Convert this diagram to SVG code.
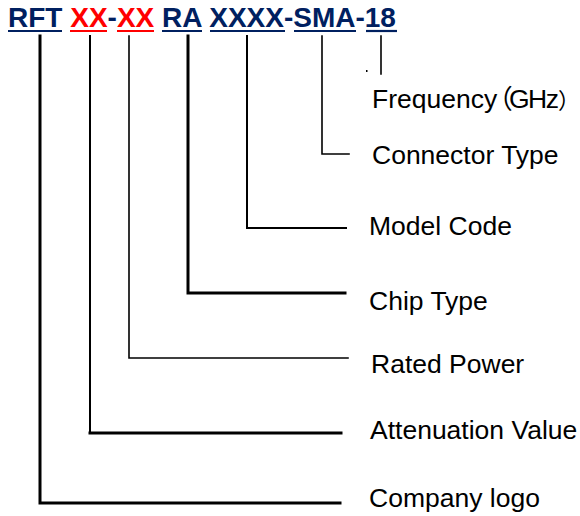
<svg xmlns="http://www.w3.org/2000/svg" width="580" height="516" viewBox="0 0 580 516">
<style>
.code{font-family:"Liberation Sans",Arial,sans-serif;font-weight:bold;font-size:28px}
.blue{fill:#002060}
.red{fill:#FF0000}
.ul{stroke-width:2.2}
.ulb{stroke:#002060}
.ulr{stroke:#FF0000}
.lbl{font-family:"Liberation Sans",Arial,"Noto Sans CJK SC",sans-serif;font-size:26.5px;fill:#000}
.ln{stroke:#000;fill:none;stroke-linecap:square}
.thick{stroke-width:3}
.mid{stroke-width:2}
.thin{stroke-width:1.6}
</style>
<rect width="580" height="516" fill="#fff"/>
<g id="code">
<text class="code" x="8" y="27"><tspan class="blue">RFT </tspan><tspan class="red">XX</tspan><tspan class="blue">-</tspan><tspan class="red">XX</tspan><tspan class="blue"> RA XXXX-SMA-18</tspan></text>
<line class="ul ulb" x1="8" y1="31" x2="62" y2="31"/>
<line class="ul ulr" x1="70" y1="31" x2="107" y2="31"/>
<line class="ul ulr" x1="117" y1="31" x2="154" y2="31"/>
<line class="ul ulb" x1="162" y1="31" x2="202" y2="31"/>
<line class="ul ulb" x1="210" y1="31" x2="285" y2="31"/>
<line class="ul ulb" x1="294" y1="31" x2="356" y2="31"/>
<line class="ul ulb" x1="366" y1="31" x2="397" y2="31"/>
</g>
<g id="connectors">
<line class="ln thin" x1="381" y1="36" x2="381" y2="74"/>
<rect x="366" y="70" width="1.5" height="2" fill="#000"/>
<polyline class="ln thin" points="322,36 322,154 349,154"/>
<polyline class="ln mid" points="247,36 247,228 346,228"/>
<polyline class="ln thick" points="188,36 188,293 345,293"/>
<polyline class="ln thin" points="129,36 129,358 348,358"/>
<line class="ln mid" x1="90" y1="36" x2="90" y2="433"/>
<line class="ln thick" x1="90" y1="433" x2="341" y2="433"/>
<polyline class="ln thick" points="40,36 40,503 340,503"/>
</g>
<g id="frequency"><text class="lbl" x="372" y="108">Frequency<tspan dx="-11">（</tspan><tspan x="509" letter-spacing="-1.5">GHz</tspan><tspan x="558" font-size="22px">）</tspan></text></g>
<g id="connector-type"><text class="lbl" x="372" y="164">Connector Type</text></g>
<g id="model-code"><text class="lbl" x="369" y="235">Model Code</text></g>
<g id="chip-type"><text class="lbl" x="369" y="310">Chip Type</text></g>
<g id="rated-power"><text class="lbl" x="371" y="373">Rated Power</text></g>
<g id="attenuation-value"><text class="lbl" x="370" y="439">Attenuation Value</text></g>
<g id="company-logo"><text class="lbl" x="369" y="507">Company logo</text></g>
</svg>
